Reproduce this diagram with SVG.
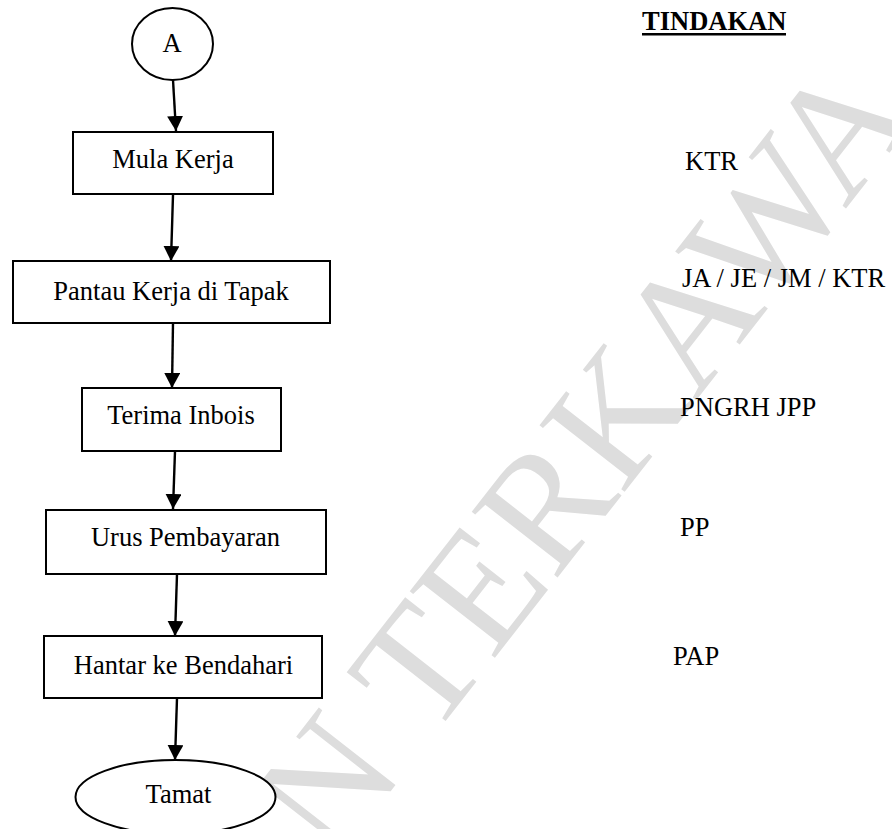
<svg xmlns="http://www.w3.org/2000/svg" width="892" height="829" viewBox="0 0 892 829">
<style>
text{font-family:"Liberation Serif","Times New Roman",serif;font-size:26.5px;fill:#000}
.c{text-anchor:middle}
.box{fill:#fff;stroke:#000;stroke-width:2}
.conn{stroke:#000;stroke-width:2.4;fill:none}
.wm{font-size:165px;fill:#dddddd}
</style>
<defs>
<marker id="ah" markerUnits="userSpaceOnUse" markerWidth="16" markerHeight="16" refX="15" refY="8" orient="auto">
<path d="M0,0 L15,8 L0,16 z" fill="#000"/>
</marker>
</defs>
<rect width="892" height="829" fill="#fff"/>
<text class="wm" transform="translate(333,865) rotate(-52)">N TERKAWA</text>
<g id="connectors">
<line class="conn" x1="173" y1="80" x2="176" y2="131" marker-end="url(#ah)"/>
<line class="conn" x1="173" y1="195" x2="171" y2="261" marker-end="url(#ah)"/>
<line class="conn" x1="173" y1="323" x2="172" y2="388" marker-end="url(#ah)"/>
<line class="conn" x1="175" y1="451" x2="173" y2="509" marker-end="url(#ah)"/>
<line class="conn" x1="177" y1="574" x2="175" y2="636" marker-end="url(#ah)"/>
<line class="conn" x1="177" y1="698" x2="175" y2="760" marker-end="url(#ah)"/>
</g>
<g id="nodeA">
<ellipse class="box" cx="172.5" cy="44" rx="40.5" ry="36" stroke-width="1.8"/>
<text class="c" x="172" y="52">A</text>
</g>
<g id="mula">
<rect class="box" x="73" y="132" width="200" height="62"/>
<text class="c" x="173" y="168">Mula Kerja</text>
</g>
<g id="pantau">
<rect class="box" x="13" y="261" width="317" height="62"/>
<text class="c" x="171" y="300">Pantau Kerja di Tapak</text>
</g>
<g id="terima">
<rect class="box" x="82" y="388" width="199" height="63"/>
<text class="c" x="181" y="424">Terima Inbois</text>
</g>
<g id="urus">
<rect class="box" x="46" y="510" width="280" height="64"/>
<text class="c" x="185.5" y="546">Urus Pembayaran</text>
</g>
<g id="hantar">
<rect class="box" x="44" y="636" width="278" height="62"/>
<text class="c" x="183.5" y="674">Hantar ke Bendahari</text>
</g>
<g id="tamat">
<ellipse class="box" cx="175.5" cy="797" rx="100" ry="37" stroke-width="1.8"/>
<text class="c" x="178.5" y="803">Tamat</text>
</g>
<g id="tindakan">
<text x="642" y="30" font-weight="bold">TINDAKAN</text>
<rect x="642" y="33" width="144" height="2.5" fill="#000"/>
<text x="685" y="170">KTR</text>
<text x="682" y="287">JA / JE / JM / KTR</text>
<text x="680" y="416">PNGRH JPP</text>
<text x="680" y="536">PP</text>
<text x="673" y="665">PAP</text>
</g>
</svg>
